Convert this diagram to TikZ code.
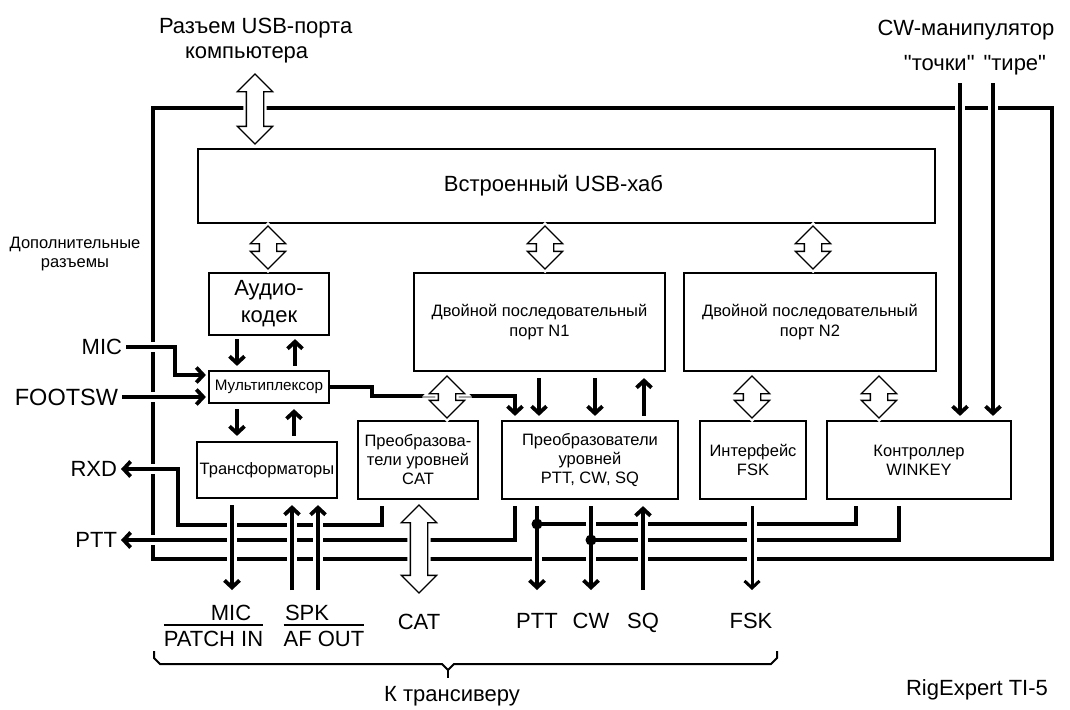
\documentclass[tikz,border=0pt]{standalone}
\usepackage{fontspec}
\setmainfont{Liberation Sans}[Ligatures=TeXOff]
\usepackage{tikz}
\usetikzlibrary{shapes,arrows,arrows.meta,positioning}

\tikzset{
  blk/.style={draw, line width=2.2pt, inner sep=0pt, align=center,
    font=\fontsize{16.5}{20}\selectfont},
  lbl/.style={inner sep=0pt, outer sep=4pt, font=\fontsize{22}{26}\selectfont},
  sig/.style={line width=3.8pt, -{Straight Barb[length=7pt,width=15pt]}},
  wire/.style={line width=3.8pt},
  hop/.style={preaction={draw=white, line width=10pt, -}},
  bus/.style={double arrow, draw, fill=white, line width=1.3pt,
    double arrow head extend=9pt, double arrow tip angle=90,
    inner xsep=0pt, inner ysep=8pt, rotate=90,
    preaction={draw=white, line width=6pt}},
  jdot/.style={circle, fill, inner sep=0pt, minimum size=11pt}
}

\begin{document}
\begin{tikzpicture}[x=1pt, y=-1pt]
\useasboundingbox (0,0) rectangle (1070,709);

% case
\draw[line width=4.5pt] (153,108) rectangle (1052,559);

% blocks
\node[blk, minimum width=737pt, minimum height=74pt, font=\fontsize{22}{26}\selectfont] (hub) at (566.5,186) {Встроенный USB-хаб\hspace*{26pt}};
\node[blk, minimum width=120pt, minimum height=62pt, font=\fontsize{22}{27}\selectfont] (codec) at (269,304) {Аудио-\\кодек};
\node[blk, minimum width=120pt, minimum height=32pt, font=\fontsize{15.2}{17}\selectfont] (mux) at (269,387) {Мультиплексор};
\node[blk, minimum width=140pt, minimum height=56pt] (tr) at (267,470) {Трансформаторы};
\node[blk, minimum width=251pt, minimum height=98pt] (pn1) at (539.5,322) {Двойной последовательный\\порт N1};
\node[blk, minimum width=252pt, minimum height=98pt] (pn2) at (810,322) {Двойной последовательный\\порт N2};
\node[blk, minimum width=120pt, minimum height=78pt, font=\fontsize{16.5}{19}\selectfont] (catconv) at (418,460) {Преобразова-\\тели уровней\\CAT};
\node[blk, minimum width=176pt, minimum height=78pt, font=\fontsize{16.5}{19}\selectfont] (lvl) at (590,460) {Преобразователи\\уровней\\PTT, CW, SQ};
\node[blk, minimum width=106pt, minimum height=78pt, font=\fontsize{16.5}{19}\selectfont] (fsk) at (753,460) {Интерфейс\\FSK};
\node[blk, minimum width=184pt, minimum height=78pt, font=\fontsize{16.5}{19}\selectfont] (wk) at (919,460) {Контроллер\\WINKEY};

% labels outside
\node[lbl, anchor=west] (usbconn) at (155,28) {Разъем USB-порта};
\node[lbl, anchor=west] (usbconnb) at (181,55) {компьютера};
\node[lbl] (cwkey) at (966,30) {CW-манипулятор};
\node[lbl] (cwkeyb) at (975,65) {"точки"\hspace{9pt}"тире"};
\node[inner sep=0pt, align=center, font=\fontsize{16.5}{19}\selectfont] (extra) at (75,254) {Дополнительные\\разъемы};
\node[lbl, anchor=east] (micin) at (126,347) {MIC};
\node[lbl, anchor=east, font=\fontsize{23.5}{26}\selectfont] (footsw) at (122,397) {FOOTSW};
\node[lbl, anchor=east] (rxd) at (121,469) {RXD};
\node[lbl, anchor=east] (pttout) at (121,540) {PTT};

% rails under the blocks
\coordinate (trout) at ([yshift=-6pt]tr.south);
\coordinate (catout) at ([xshift=-36pt,yshift=-6pt]catconv.south);
\coordinate (lvlout) at ([yshift=-6pt]lvl.south);
\coordinate (fskout) at ([yshift=-6pt]fsk.south);
\coordinate (wkout) at ([yshift=-6pt]wk.south);
\coordinate (wkin) at ([yshift=4pt]wk.north);

% free ends
\coordinate (dotsin) at (960,83);
\coordinate (dashin) at (993,83);
\coordinate (micend) at (232,590);
\coordinate (spkend) at (292,590);
\coordinate (afend) at (318,590);
\coordinate (pttend) at (537,590);
\coordinate (cwend) at (591,590);
\coordinate (sqend) at (643,590);
\coordinate (fskend) at (752,590);
\coordinate (jptt) at (537,524);
\coordinate (jcw) at (591,540);

% audio path
\draw[sig, shorten <=3pt, shorten >=4pt] ([xshift=-32pt]codec.south) -- ([xshift=-32pt]mux.north);
\draw[sig, shorten <=4pt, shorten >=3pt] ([xshift=26pt]mux.north) -- ([xshift=26pt]codec.south);
\draw[sig, shorten <=5pt, shorten >=5pt] ([xshift=-32pt]mux.south) -- ([xshift=-32pt]mux.south |- tr.north);
\draw[sig, shorten <=5pt, shorten >=5pt] ([xshift=25pt]mux.south |- tr.north) -- ([xshift=25pt]mux.south);
\draw[sig, shorten >=4pt] (mux.east) -- (372,387) -- (372,396) -| ([xshift=-75pt]lvl.north);

% port N1 to converters
\draw[sig, shorten <=6pt, shorten >=4pt] ([xshift=-51pt]lvl.north |- pn1.south) -- ([xshift=-51pt]lvl.north);
\draw[sig, shorten <=6pt, shorten >=4pt] ([xshift=5pt]lvl.north |- pn1.south) -- ([xshift=5pt]lvl.north);
\draw[sig, shorten <=4pt, shorten >=6pt] ([xshift=54pt]lvl.north) -- ([xshift=54pt]lvl.north |- pn1.south);

% inputs on the left
\draw[sig, hop] (micin.east) -| (175,375) -- ([xshift=-2pt,yshift=12pt]mux.west);
\draw[sig, hop] (footsw.east) -- ([xshift=-2pt,yshift=-10pt]mux.west);

% outputs on the left
\draw[sig, hop] (catout) |- (178,525) |- (rxd.east);
\draw[sig, hop] (lvlout -| 515,0) |- (pttout.east);

% winkey outputs
\draw[wire, hop] (wkout -| 856,0) |- (jptt);
\draw[wire, hop] (wkout -| 899,0) |- (jcw);

% to the transceiver
\draw[sig, hop] (trout -| micend) -- (micend);
\draw[sig, hop] (spkend) -- (trout -| spkend);
\draw[sig, hop] (afend) -- (trout -| afend);
\draw[sig, hop] (lvlout -| pttend) -- (pttend);
\draw[sig, hop] (lvlout -| cwend) -- (cwend);
\draw[sig, hop] (sqend) -- (lvlout -| sqend);
\draw[sig, hop, line width=3pt] (fskout -| fskend) -- (fskend);
\node[jdot] (jpttdot) at (jptt) {};
\node[jdot] (jcwdot) at (jcw) {};

% key
\draw[sig, hop] (dotsin) -- (wkin -| dotsin);
\draw[sig, hop] (dashin) -- (wkin -| dashin);

% buses
\node[bus, minimum height=70pt] (usbport) at (255,109) {};
\node[bus, minimum height=43pt] (busa) at (268,247.5) {};
\node[bus, minimum height=43pt] (busb) at (545,247.5) {};
\node[bus, minimum height=43pt] (busc) at (813,247.5) {};
\node[bus, minimum height=42pt] (busd) at (447,397) {};
\node[bus, minimum height=42pt] (buse) at (752,397) {};
\node[bus, minimum height=42pt] (busf) at (879,397) {};
\node[bus, minimum height=88pt] (catport) at (419,549) {};

% bottom labels
\node[lbl] (mic) at (231,613) {MIC};
\node[lbl] (patchin) at (213.5,639) {PATCH IN};
\node[lbl, anchor=west] (spk) at (281,613) {SPK};
\node[lbl] (afout) at (324,639) {AF OUT};
\draw[line width=2pt] ([xshift=4pt,yshift=2pt]patchin.north west) -- ([xshift=-4pt,yshift=2pt]patchin.north east);
\draw[line width=2pt] ([xshift=4pt,yshift=2pt]afout.north west) -- ([xshift=-4pt,yshift=2pt]afout.north east);
\node[lbl] (cat) at (419,622) {CAT};
\node[lbl] (ptt) at (537,621) {PTT};
\node[lbl] (cw) at (591,621) {CW};
\node[lbl] (sq) at (643,623) {SQ};
\node[lbl] (fskl) at (751,621) {FSK};

% brace
\draw[line width=2pt] (154,651) -- (154,658) -- (160,664) -- (442,664) -- (448,670) -- (454,664) -- (771,664) -- (777,658) -- (777,651);
\draw[line width=2pt] (448,670) -- (448,678);
\node[lbl] (trx) at (452,696) {К трансиверу};
\node[lbl] (model) at (977,690) {RigExpert TI-5};
\end{tikzpicture}
\end{document}
